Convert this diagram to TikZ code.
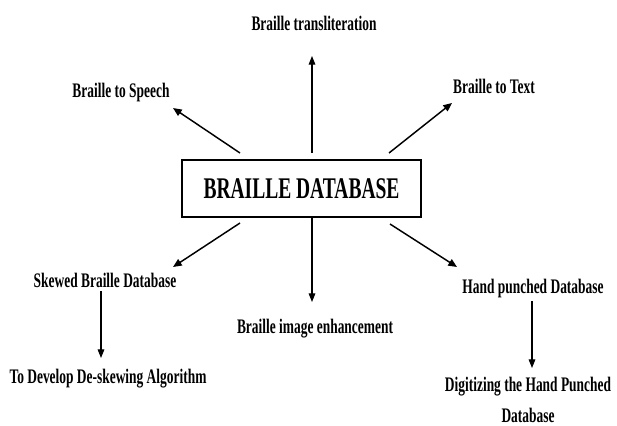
\documentclass[tikz,border=0pt]{standalone}
\usepackage{fontspec}
\setmainfont{Liberation Serif}[FakeStretch=0.65]
\usetikzlibrary{arrows.meta}
\begin{document}
\begin{tikzpicture}[x=0.75pt,y=-0.75pt,
  lbl/.style={font=\bfseries\fontsize{15.5}{18}\selectfont, inner sep=0pt},
  dbbox/.style={draw, line width=1.1pt, minimum width=179pt, minimum height=42.5pt,
    font=\bfseries\fontsize{22.5}{26}\selectfont, inner sep=0pt},
  diag/.style={-{Triangle[length=6.5pt,width=5.5pt]}, line width=1.1pt},
  vert/.style={-{Triangle[length=6.5pt,width=5pt]}, line width=0.8pt}]
\useasboundingbox (0,0) rectangle (617,425);
\fill[white] (0,0) rectangle (617,425);
\node[dbbox] (db) at (301.5,188.5) {BRAILLE DATABASE};
\node[lbl] (trans) at (314,23) {Braille transliteration};
\node[lbl] (speech) at (121,93) {Braille to Speech};
\node[lbl] (text) at (494,86) {Braille to Text};
\node[lbl] (skewed) at (105,280) {Skewed Braille Database};
\node[lbl] (enh) at (315,329) {Braille image enhancement};
\node[lbl] (hand) at (533,289) {Hand punched Database};
\node[lbl] (deskew) at (108,379) {To Develop De-skewing Algorithm};
\node[lbl, align=center] (digit) at (528,400) {Digitizing the Hand Punched\\[5pt]Database};
% arrow end points
\coordinate (uA) at (312,153); \coordinate (uB) at (312,56);
\coordinate (sA) at (240,153); \coordinate (sB) at (173,108);
\coordinate (tA) at (389,153); \coordinate (tB) at (452,103);
\coordinate (lA) at (240,223); \coordinate (lB) at (173,267);
\coordinate (dA) at (312,218); \coordinate (dB) at (312,302);
\coordinate (rA) at (390,224); \coordinate (rB) at (457,267);
\coordinate (kA) at (101,291); \coordinate (kB) at (101,358);
\coordinate (hA) at (532,301); \coordinate (hB) at (532,368);
\draw[vert] (uA) -- (uB);
\draw[diag] (sA) -- (sB);
\draw[diag] (tA) -- (tB);
\draw[diag] (lA) -- (lB);
\draw[vert] (dA) -- (dB);
\draw[diag] (rA) -- (rB);
\draw[vert] (kA) -- (kB);
\draw[vert] (hA) -- (hB);
\end{tikzpicture}
\end{document}
